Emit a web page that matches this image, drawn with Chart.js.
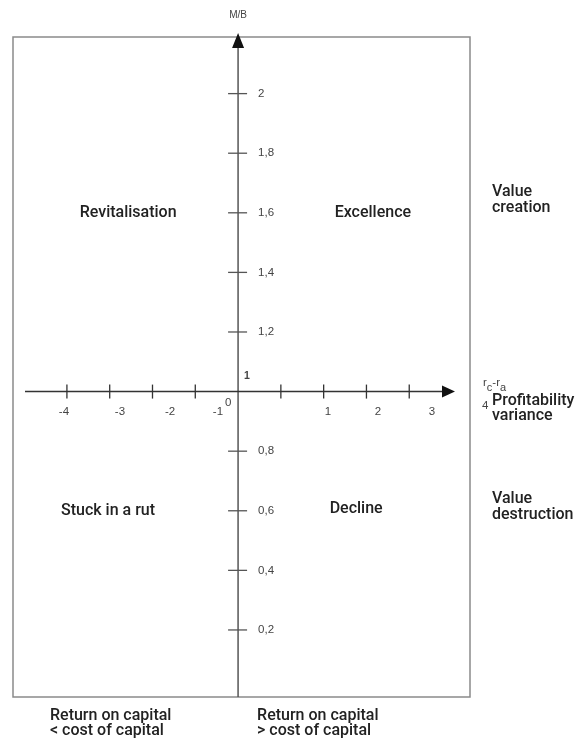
<!DOCTYPE html>
<html>
<head>
<meta charset="utf-8">
<script src="https://cdn.jsdelivr.net/npm/chart.js@4/dist/chart.umd.min.js"></script>
<style>
  html, body { margin: 0; padding: 0; background: #fff; }
  #wrap { width: 580px; height: 742px; }
</style>
</head>
<body>
<div id="wrap"><canvas id="chart"></canvas></div>
<script>
// axis ranges (r_c - r_a horizontally, M/B vertically)
const xMin = -5.26, xMax = 5.42;
const yMin = -0.025, yMax = 2.19;

// tick marks on the horizontal axis and where their labels sit
const xTicks = [-4, -3, -2, -1, 1, 2, 3, 4];
const xTickLabels = ['-4', '-3', '-2', '-1', '1', '2', '3'];
const xLabelPos = [-4.07, -2.76, -1.59, -0.47, 2.1, 3.27, 4.53];

// tick marks on the vertical axis
const yTicks = [0.2, 0.4, 0.6, 0.8, 1.2, 1.4, 1.6, 1.8, 2];
const yTickLabels = ['0,2', '0,4', '0,6', '0,8', '1,2', '1,4', '1,6', '1,8', '2'];

// quadrant names
const quadrantLabels = ['Revitalisation', 'Excellence', 'Stuck in a rut', 'Decline'];
const quadrantX = [-2.57, 3.15, -3.04, 2.76];
const quadrantY = [1.6, 1.6, 0.6, 0.607];

const sideLabels = [['Value', 'creation'], ['Value', 'destruction']];
const sideY = [1.64, 0.61];

const bottomLabels = [['Return on capital', '< cost of capital'], ['Return on capital', '> cost of capital']];

const labelFont = '500 16px Roboto';
const tickFont = '11.5px "Liberation Sans"';

const matrixPlugin = {
  id: 'matrix',
  afterDraw(chart) {
    const ctx = chart.ctx;
    const { left, right, top, bottom } = chart.chartArea;
    const xs = chart.scales.x, ys = chart.scales.y;
    const x0 = xs.getPixelForValue(0);
    const y1 = ys.getPixelForValue(1);

    ctx.save();
    // frame
    ctx.strokeStyle = '#8a8a8a';
    ctx.lineWidth = 1.5;
    ctx.strokeRect(left, top, right - left, bottom - top);

    // vertical axis + arrow
    ctx.strokeStyle = '#555';
    ctx.fillStyle = '#111';
    ctx.beginPath();
    ctx.moveTo(x0, bottom);
    ctx.lineTo(x0, top + 8);
    ctx.stroke();
    ctx.beginPath();
    ctx.moveTo(x0, top - 4);
    ctx.lineTo(x0 - 6, top + 11);
    ctx.lineTo(x0 + 6, top + 11);
    ctx.closePath();
    ctx.fill();

    // horizontal axis + arrow
    const xa = left + 12, xb = right - 15;
    ctx.strokeStyle = '#333';
    ctx.beginPath();
    ctx.moveTo(xa, y1);
    ctx.lineTo(xb - 8, y1);
    ctx.stroke();
    ctx.beginPath();
    ctx.moveTo(xb, y1);
    ctx.lineTo(xb - 13, y1 - 6);
    ctx.lineTo(xb - 13, y1 + 6);
    ctx.closePath();
    ctx.fill();

    // x tick marks
    ctx.lineWidth = 1.3;
    xTicks.forEach(v => {
      const px = xs.getPixelForValue(v);
      ctx.beginPath();
      ctx.moveTo(px, y1 - 7);
      ctx.lineTo(px, y1 + 7);
      ctx.stroke();
    });
    // y tick marks
    ctx.strokeStyle = '#555';
    yTicks.forEach(v => {
      const py = ys.getPixelForValue(v);
      ctx.beginPath();
      ctx.moveTo(x0 - 10, py);
      ctx.lineTo(x0 + 9, py);
      ctx.stroke();
    });

    // tick labels
    ctx.fillStyle = '#444';
    ctx.font = tickFont;
    ctx.textBaseline = 'middle';
    ctx.textAlign = 'center';
    xTickLabels.forEach((t, i) => ctx.fillText(t, xs.getPixelForValue(xLabelPos[i]), y1 + 20));
    ctx.fillText('0', x0 - 10, y1 + 11);
    ctx.textAlign = 'left';
    yTickLabels.forEach((t, i) => ctx.fillText(t, x0 + 20, ys.getPixelForValue(yTicks[i])));
    ctx.font = 'bold 10.5px "Liberation Sans"';
    ctx.fillText('1', x0 + 6, y1 - 15);

    // axis titles
    ctx.font = '10px "Liberation Sans"';
    ctx.textAlign = 'center';
    ctx.fillText('M/B', x0, 15);
    ctx.textAlign = 'left';
    let rx = right + 13;
    const ry = y1 - 9;
    [['r', 0], ['c', 5], ['-r', 0], ['a', 5]].forEach(([s, dy]) => {
      ctx.font = (dy ? '11px' : '11.5px') + ' "Liberation Sans"';
      ctx.fillText(s, rx, ry + dy);
      rx += ctx.measureText(s).width;
    });
    ctx.font = '11.5px "Liberation Sans"';
    ctx.fillText('4', right + 12, y1 + 14);

    // quadrant labels
    ctx.fillStyle = '#222';
    ctx.font = labelFont;
    ctx.textAlign = 'center';
    quadrantLabels.forEach((t, i) => ctx.fillText(t, xs.getPixelForValue(quadrantX[i]), ys.getPixelForValue(quadrantY[i])));

    // right-hand labels
    ctx.textAlign = 'left';
    sideLabels.forEach((lines, i) => {
      const py = ys.getPixelForValue(sideY[i]);
      ctx.fillText(lines[0], right + 22, py - 9);
      ctx.fillText(lines[1], right + 22, py + 7);
    });
    ctx.fillText('Profitability', right + 22, y1 + 9);
    ctx.fillText('variance', right + 22, y1 + 24);

    // bottom labels
    const bx = [left + 37, x0 + 19];
    bottomLabels.forEach((lines, i) => {
      ctx.fillText(lines[0], bx[i], bottom + 19);
      ctx.fillText(lines[1], bx[i], bottom + 34);
    });
    ctx.restore();
  }
};

new Chart(document.getElementById('chart'), {
  type: 'scatter',
  data: { datasets: [] },
  options: {
    responsive: true,
    maintainAspectRatio: false,
    animation: false,
    layout: { padding: { left: 13, right: 110, top: 37, bottom: 45 } },
    scales: {
      x: { type: 'linear', min: xMin, max: xMax, display: false },
      y: { type: 'linear', min: yMin, max: yMax, display: false }
    },
    plugins: { legend: { display: false }, tooltip: { enabled: false } }
  },
  plugins: [matrixPlugin]
});
</script>
</body>
</html>
